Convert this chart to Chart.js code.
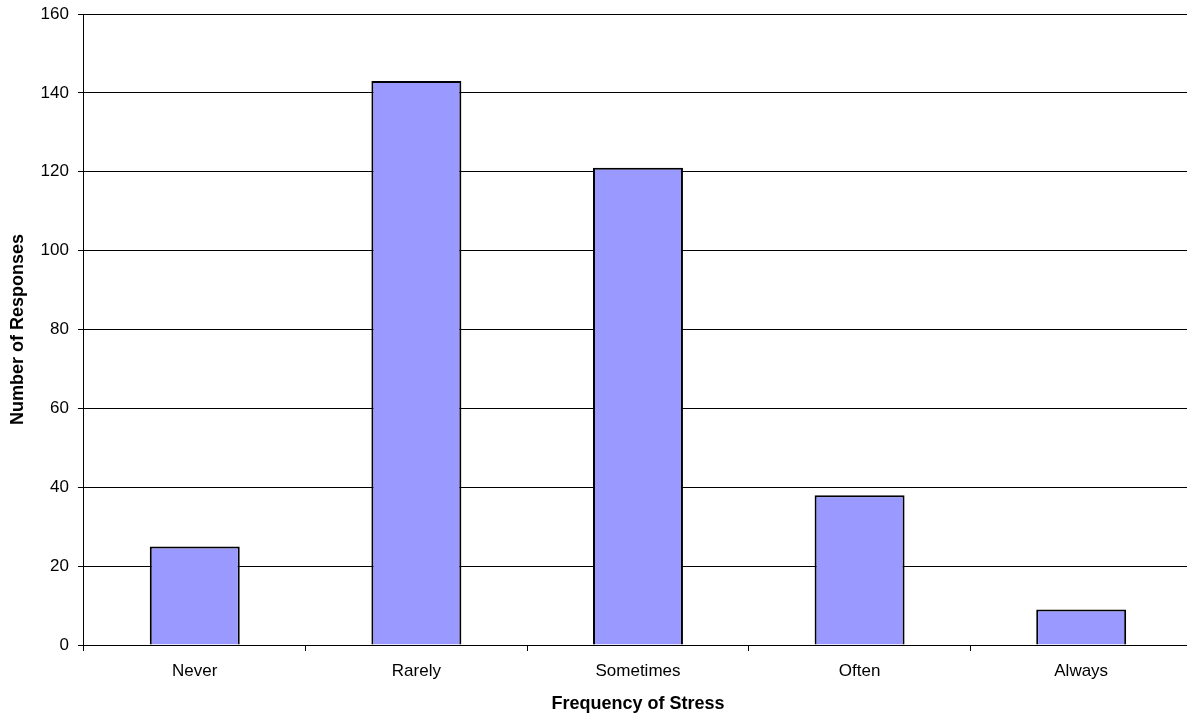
<!DOCTYPE html>
<html>
<head>
<meta charset="utf-8">
<script src="https://cdn.jsdelivr.net/npm/chart.js@4"></script>
<style>
  html, body { margin: 0; padding: 0; background: #fff; overflow: hidden; }
  #wrap { width: 1192px; height: 719px; }
</style>
</head>
<body>
<div id="wrap"><canvas id="stressChart"></canvas></div>
<script>
const categories = ['Never', 'Rarely', 'Sometimes', 'Often', 'Always'];
const responses = [25, 143, 121, 38, 9];
const yTicks = [0, 20, 40, 60, 80, 100, 120, 140, 160];

const fontFamily = '"Liberation Sans", Arial, sans-serif';

const ctx = document.getElementById('stressChart').getContext('2d');
new Chart(ctx, {
    type: 'bar',
    data: {
        labels: categories,
        datasets: [{
            label: 'Responses',
            data: responses,
            backgroundColor: '#9999ff',
            borderColor: '#000000',
            borderWidth: 2,
            barPercentage: 0.406,
            categoryPercentage: 1
        }]
    },
    options: {
        responsive: true,
        maintainAspectRatio: false,
        animation: false,
        layout: { padding: { top: 14, left: 3, right: 0, bottom: 4 } },
        plugins: {
            legend: { display: false },
            tooltip: { enabled: false }
        },
        scales: {
            x: {
                grid: {
                    offset: true,
                    drawOnChartArea: false,
                    drawTicks: true,
                    tickLength: 6,
                    color: '#000'
                },
                border: { color: '#000', width: 1 },
                ticks: {
                    color: '#000',
                    font: { family: fontFamily, size: 17 },
                    padding: 10
                },
                title: {
                    display: true,
                    text: 'Frequency of Stress',
                    color: '#000',
                    font: { family: fontFamily, size: 18, weight: 'bold' },
                    padding: { top: 2, bottom: 0 }
                }
            },
            y: {
                min: 0,
                max: 160,
                afterBuildTicks: axis => {
                    axis.ticks = yTicks.map(v => ({ value: v }));
                },
                // let the "160" label hang above the plot like the original
                afterFit: axis => {
                    axis.paddingTop = 0;
                },
                grid: {
                    color: '#000',
                    lineWidth: 1,
                    drawTicks: true,
                    tickLength: 6
                },
                border: { color: '#000', width: 1 },
                ticks: {
                    color: '#000',
                    font: { family: fontFamily, size: 17 },
                    padding: 9
                },
                title: {
                    display: true,
                    text: 'Number of Responses',
                    color: '#000',
                    font: { family: fontFamily, size: 18, weight: 'bold' },
                    padding: { top: 4, bottom: 3 }
                }
            }
        }
    }
});
</script>
</body>
</html>
